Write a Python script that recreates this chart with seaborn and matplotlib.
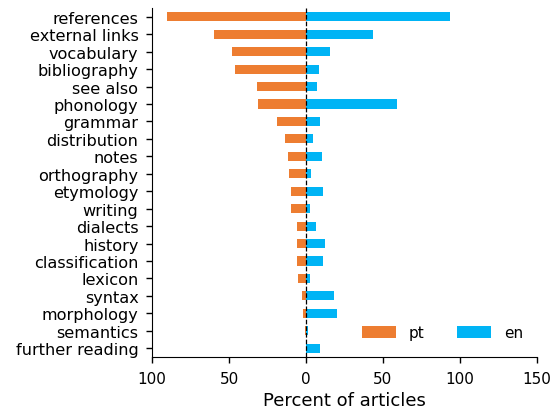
import matplotlib
matplotlib.use("Agg")
import matplotlib.pyplot as plt
import seaborn as sns
import pandas as pd

categories = ["references", "external links", "vocabulary", "bibliography", "see also",
              "phonology", "grammar", "distribution", "notes", "orthography", "etymology",
              "writing", "dialects", "history", "classification", "lexicon", "syntax",
              "morphology", "semantics", "further reading"]
pt_values = [90.5, 60, 48.2, 46.3, 32, 31.4, 19, 13.9, 11.9, 11.3, 9.9, 9.9, 6, 6, 6, 5.4,
             2.8, 2.2, 0.9, 0]
en_values = [93.3, 43.3, 15.4, 8.2, 7, 58.9, 8.9, 4.3, 10.2, 3, 10.8, 2.4, 6.3, 12.1, 10.8,
             2.4, 18, 19.9, 1, 8.9]
series = ["pt", "en"]
colors = {"pt": "#ED7D31", "en": "#00B4F5"}
xticks = [-100, -50, 0, 50, 100, 150]

sns.set_style("ticks", rc={
    "axes.edgecolor": "black", "text.color": "black", "axes.labelcolor": "black",
    "xtick.color": "black", "ytick.color": "black",
})
plt.rcParams["font.family"] = ["DejaVu Sans"]

df = pd.DataFrame({
    "section": categories * 2,
    "value": [-v for v in pt_values] + en_values,
    "lang": ["pt"] * len(categories) + ["en"] * len(categories),
})

fig = plt.figure(figsize=(5.57, 4.10), dpi=100)
ax = fig.add_axes([0.273, 0.127, 0.691, 0.851])
sns.barplot(data=df, x="value", y="section", hue="lang", hue_order=series,
            palette=colors, dodge=False, width=0.52, orient="h", ax=ax,
            order=categories, saturation=1, linewidth=0)
ax.axvline(0, color="black", linestyle="--", linewidth=0.9)
ax.set_xlim(-100, 150)
ax.set_xticks(xticks)
ax.set_xticklabels([str(abs(t)) for t in xticks], fontsize=11)
ax.tick_params(axis="y", labelsize=11.6)
ax.tick_params(length=4.3, width=1, pad=5.5)
ax.set_xlabel("Percent of articles", fontsize=13)
ax.set_ylabel("")
sns.despine(ax=ax)
ax.legend(loc="lower right", ncol=2, frameon=False, fontsize=11,
          handlelength=2.2, handleheight=0.8, handletextpad=0.85,
          columnspacing=2.15, bbox_to_anchor=(1.0, 0.008))
fig.savefig("out.png", dpi=100)
